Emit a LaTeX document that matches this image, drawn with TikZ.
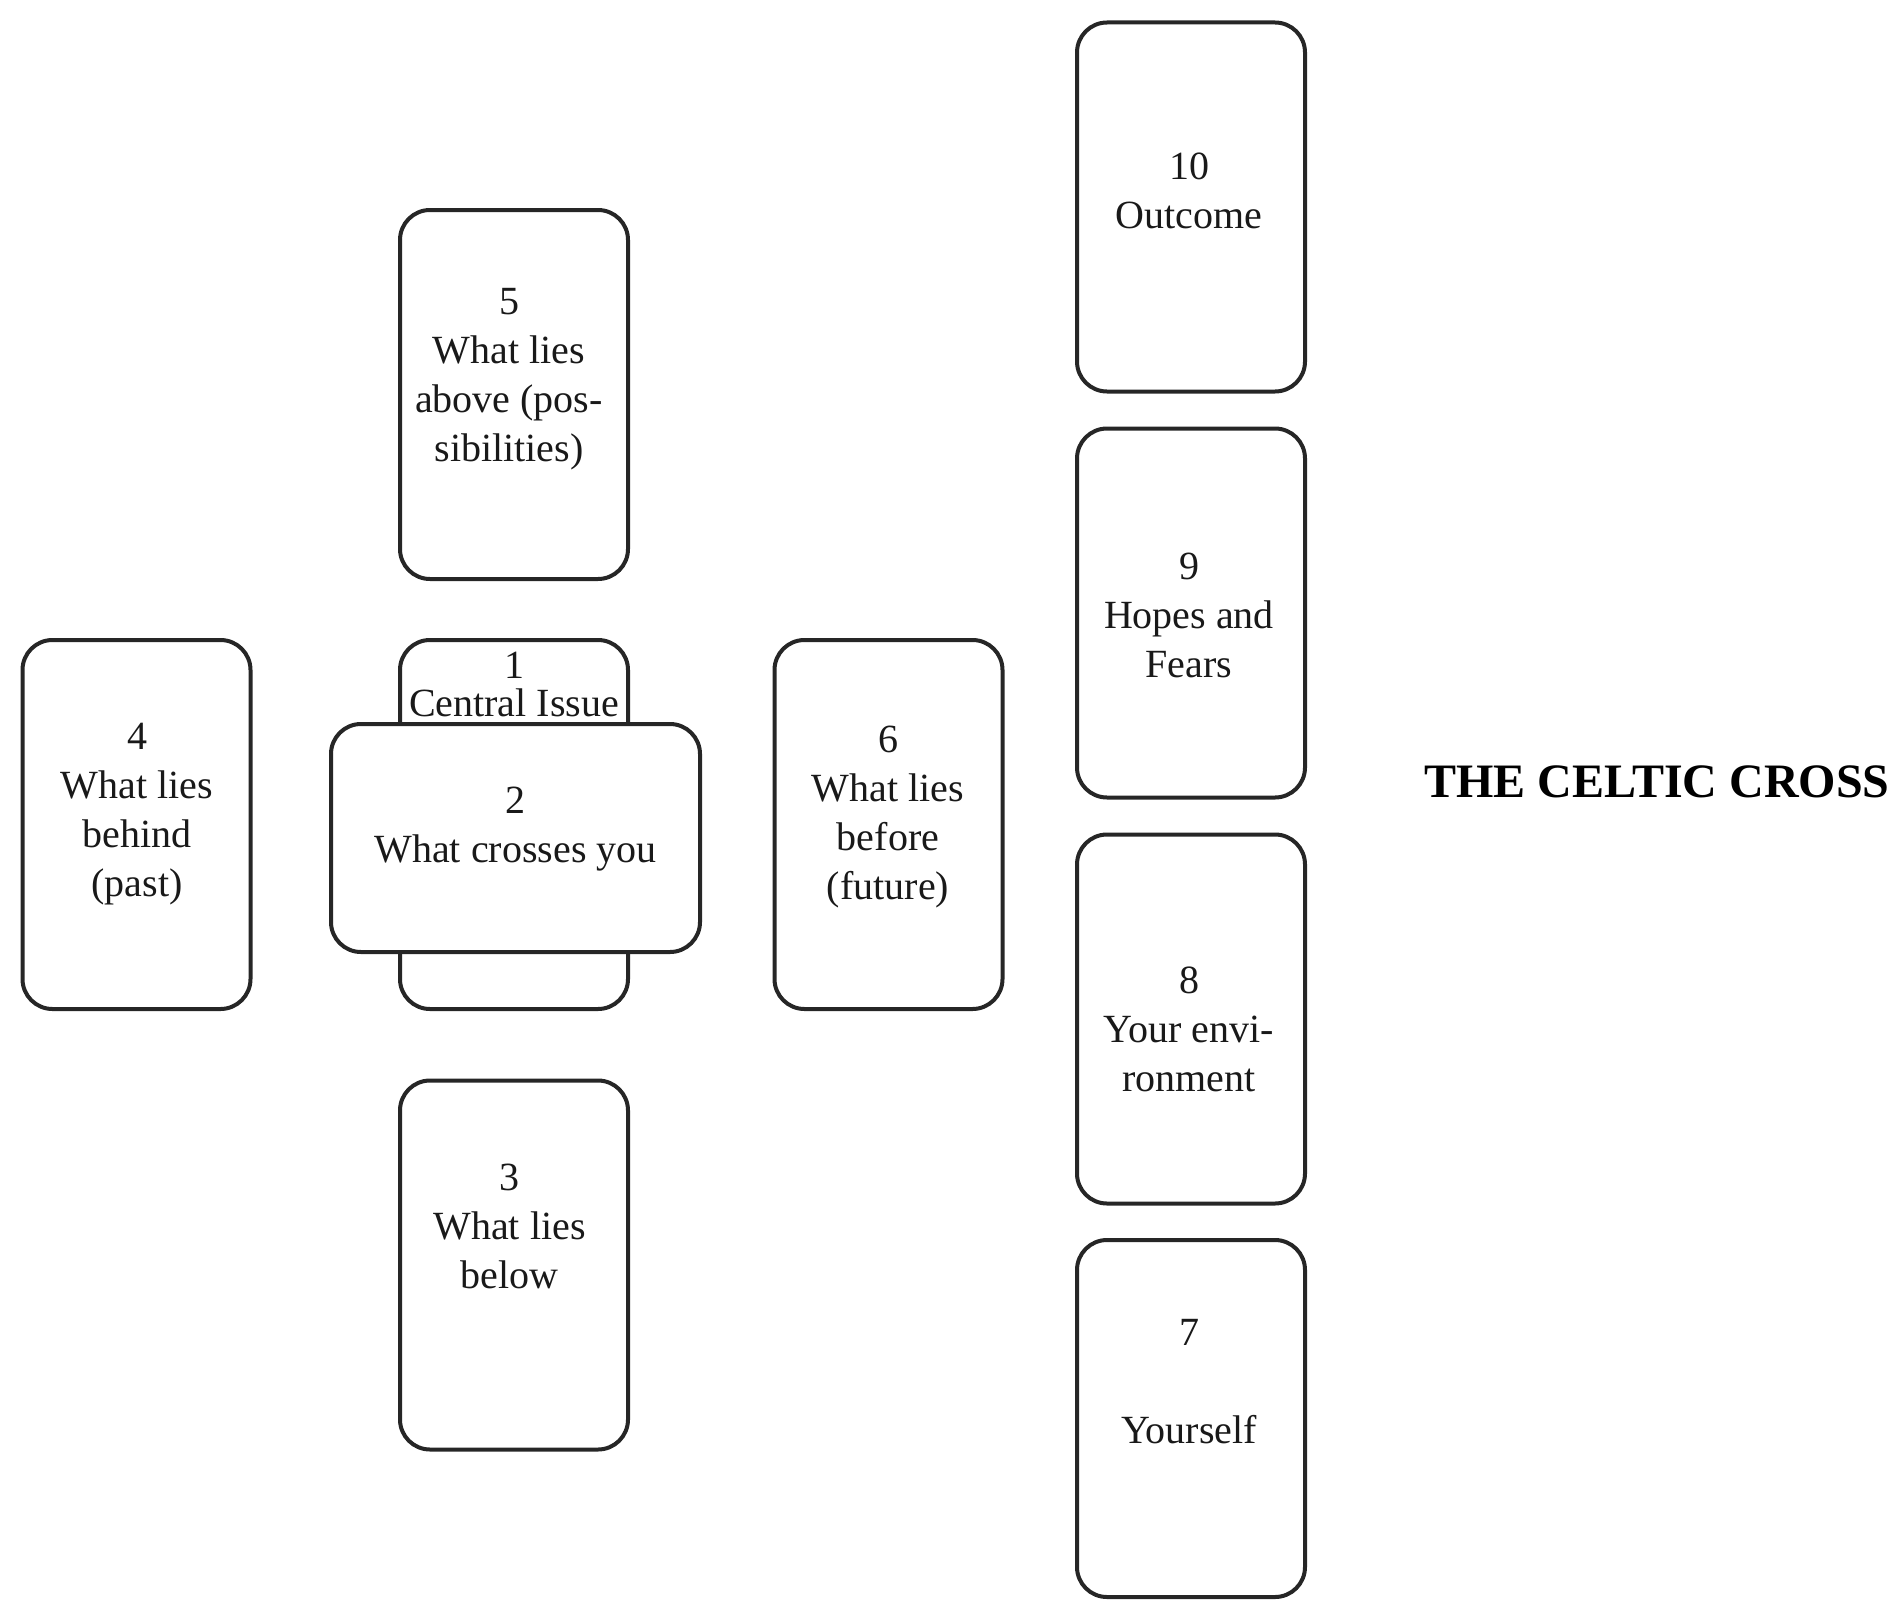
\documentclass[tikz,border=0pt]{standalone}
\usepackage{fontspec}
\setmainfont{Liberation Serif}
\begin{document}
\begin{tikzpicture}[x=1pt,y=-1pt,
  card/.style={draw=black!85, line width=4pt, rounded corners=30pt, fill=white,
    minimum width=228pt, minimum height=369pt, inner sep=0pt},
  wide/.style={card, minimum width=369pt, minimum height=228pt},
  lbl/.style={align=center, font=\fontsize{40}{49}\selectfont, inner sep=0pt, text=black!90},
  title/.style={font=\fontsize{48}{58}\selectfont\bfseries, inner sep=0pt}]
\useasboundingbox (0,0) rectangle (1902,1600);
% left cross
\node[card] (c5) at (514,394.5) {};
\node[lbl] (t5) at (509,379) {5\\What lies\\above (pos-\\sibilities)};
\node[card] (c4) at (136.5,824.5) {};
\node[lbl] (t4) at (137,814) {4\\What lies\\behind\\(past)};
\node[card] (c1) at (514,824.5) {};
\node[lbl, font=\fontsize{40}{38}\selectfont] (t1) at (514,684.5) {1\\Central Issue};
\node[wide] (c2) at (515.5,838) {};
\node[lbl] (t2) at (515.5,829) {2\\What crosses you};
\node[card] (c6) at (888.5,824.5) {};
\node[lbl] (t6) at (888,817) {6\\What lies\\before\\(future)};
\node[card] (c3) at (514,1265) {};
\node[lbl] (t3) at (509.5,1226) {3\\What lies\\below};
% staff
\node[card] (c10) at (1191,207) {};
\node[lbl] (t10) at (1189,191) {10\\Outcome};
\node[card] (c9) at (1191,613) {};
\node[lbl] (t9) at (1189,615) {9\\Hopes and\\Fears};
\node[card] (c8) at (1191,1019) {};
\node[lbl] (t8) at (1189,1029) {8\\Your envi-\\ronment};
\node[card, minimum height=357pt] (c7) at (1191,1418.5) {};
\node[lbl] (t7) at (1189,1382) {7\\[49pt]Yourself};
% title
\node[title] (ttl) at (1657,782) {THE CELTIC CROSS};
\end{tikzpicture}
\end{document}
